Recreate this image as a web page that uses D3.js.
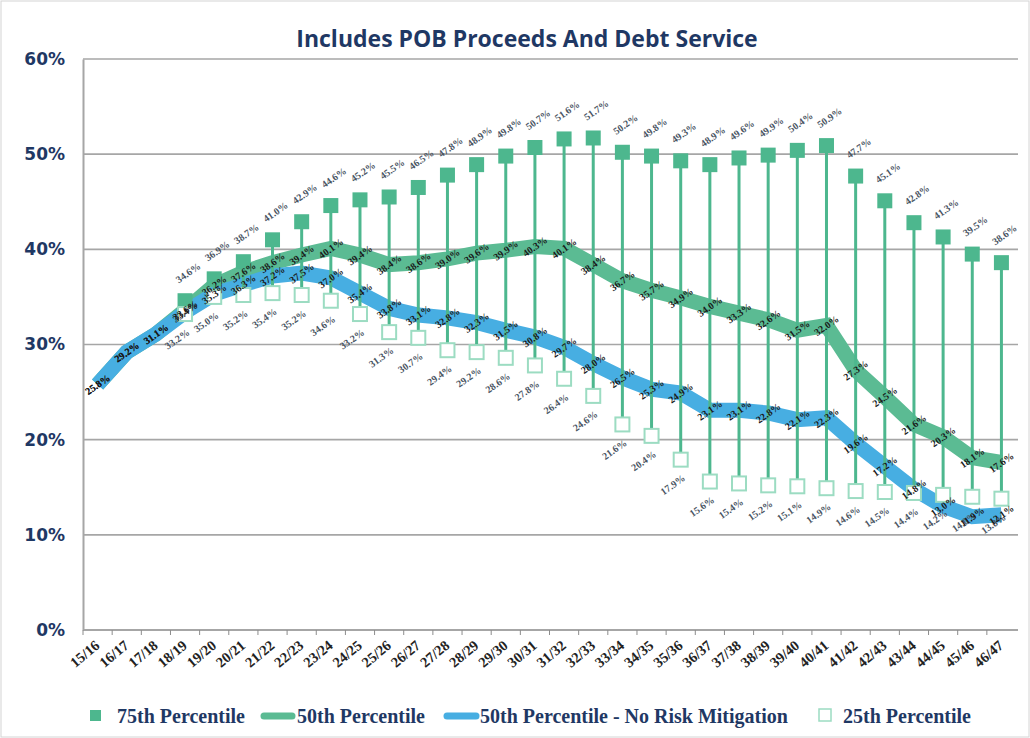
<!DOCTYPE html>
<html>
<head>
<meta charset="utf-8">
<script src="https://cdn.jsdelivr.net/npm/d3@7"></script>
<style>
  body { margin: 0; background: #fff; }
  svg { display: block; }
</style>
</head>
<body>
<div id="chart"></div>
<script>
// fiscal years on the category axis
var years = ["15/16","16/17","17/18","18/19","19/20","20/21","21/22","22/23","23/24","24/25",
  "25/26","26/27","27/28","28/29","29/30","30/31","31/32","32/33","33/34","34/35",
  "35/36","36/37","37/38","38/39","39/40","40/41","41/42","42/43","43/44","44/45",
  "45/46","46/47"];

// percent values
var p75 = [null, null, null, 34.6, 36.9, 38.7, 41.0, 42.9, 44.6, 45.2,
  45.5, 46.5, 47.8, 48.9, 49.8, 50.7, 51.6, 51.7, 50.2, 49.8,
  49.3, 48.9, 49.6, 49.9, 50.4, 50.9, 47.7, 45.1, 42.8, 41.3,
  39.5, 38.6];
var p50 = [25.8, 29.2, 31.1, 33.6, 36.2, 37.6, 38.6, 39.4, 40.1, 39.4,
  38.4, 38.6, 39.0, 39.6, 39.9, 40.3, 40.1, 38.4, 36.7, 35.7,
  34.9, 34.0, 33.3, 32.6, 31.5, 32.0, 27.3, 24.5, 21.6, 20.3,
  18.1, 17.6];
var p50NoRisk = [25.8, 29.2, 31.1, 33.4, 35.3, 36.3, 37.2, 37.5, 37.0, 35.4,
  33.8, 33.1, 32.8, 32.3, 31.5, 30.8, 29.7, 28.0, 26.5, 25.3,
  24.9, 23.1, 23.1, 22.8, 22.1, 22.3, 19.6, 17.2, 14.8, 13.0,
  11.9, 12.1];
var p25 = [null, null, null, 33.2, 35.0, 35.2, 35.4, 35.2, 34.6, 33.2,
  31.3, 30.7, 29.4, 29.2, 28.6, 27.8, 26.4, 24.6, 21.6, 20.4,
  17.9, 15.6, 15.4, 15.2, 15.1, 14.9, 14.6, 14.5, 14.4, 14.2,
  14.0, 13.8];
var yTicks = [0, 10, 20, 30, 40, 50, 60];

var W = 1030, H = 738;
var navy = "#1f3864";
var green = "#4db78e", lineGreen = "#5bbb93", blue = "#47aee2", lightGreen = "#9cdcc2";

var svg = d3.select("#chart").append("svg")
    .attr("width", W)
    .attr("height", H);

svg.append("rect")
    .attr("x", 1).attr("y", 1)
    .attr("width", W - 2).attr("height", H - 2)
    .attr("fill", "#fff")
    .attr("stroke", "#d4d4d4");

// scales
var x = d3.scaleBand()
    .domain(years)
    .range([83, 1016])
    .padding(0);

var y = d3.scaleLinear()
    .domain([0, 60])
    .range([630, 59]);

function cx(i) { return x(years[i]) + x.bandwidth() / 2; }
var fmt = function(v) { return d3.format(".1f")(v) + "%"; };

// title
svg.append("text")
    .attr("x", 527)
    .attr("y", 47)
    .attr("text-anchor", "middle")
    .attr("font-family", "'Open Sans', sans-serif")
    .attr("font-weight", 700)
    .attr("font-size", 23)
    .attr("fill", navy)
    .text("Includes POB Proceeds And Debt Service");

// gridlines
svg.append("g")
    .selectAll("line")
    .data(yTicks)
    .enter().append("line")
    .attr("x1", 83).attr("x2", 1018)
    .attr("y1", function(d) { return y(d); })
    .attr("y2", function(d) { return y(d); })
    .attr("stroke", "#a6a6a6")
    .attr("stroke-width", 1.6);

// y axis
var yAxis = svg.append("g")
    .attr("transform", "translate(83,0)")
    .call(d3.axisLeft(y).tickValues(yTicks).tickSize(0).tickPadding(18)
      .tickFormat(function(d) { return d + "%"; }));
yAxis.select(".domain").attr("stroke", "#a6a6a6").attr("stroke-width", 2);
yAxis.selectAll("text")
    .attr("font-family", "'DejaVu Sans', sans-serif")
    .attr("font-weight", 700)
    .attr("font-size", 17)
    .attr("fill", navy);

// x axis: ticks sit between categories
var xAxis = svg.append("g")
    .attr("transform", "translate(0," + y(0) + ")");
xAxis.append("line")
    .attr("x1", 83).attr("x2", 1018)
    .attr("stroke", "#a6a6a6").attr("stroke-width", 2);
xAxis.selectAll("line.tick")
    .data(years)
    .enter().append("line")
    .attr("class", "tick")
    .attr("x1", function(d) { return x(d); })
    .attr("x2", function(d) { return x(d); })
    .attr("y1", 0).attr("y2", 5)
    .attr("stroke", "#8c8c8c");
xAxis.selectAll("text")
    .data(years)
    .enter().append("text")
    .attr("transform", function(d) {
      return "translate(" + (x(d) + x.bandwidth() / 2 + 3) + ",17) rotate(-40)";
    })
    .attr("text-anchor", "end")
    .attr("font-family", "'Liberation Serif', serif")
    .attr("font-weight", 700)
    .attr("font-size", 14.5)
    .attr("fill", "#222")
    .text(function(d) { return d; });

// series lines
var line = d3.line()
    .defined(function(d) { return d != null; })
    .x(function(d, i) { return cx(i); })
    .y(function(d) { return y(d); });

svg.append("path")
    .datum(p50)
    .attr("d", line)
    .attr("fill", "none")
    .attr("stroke", lineGreen)
    .attr("stroke-width", 15);

svg.append("path")
    .datum(p50NoRisk)
    .attr("d", line)
    .attr("fill", "none")
    .attr("stroke", blue)
    .attr("stroke-width", 15);

// high-low lines from 75th to 25th
svg.append("g")
    .selectAll("line")
    .data(years.filter(function(d, i) { return p75[i] != null; }))
    .enter().append("line")
    .attr("x1", function(d) { return cx(years.indexOf(d)); })
    .attr("x2", function(d) { return cx(years.indexOf(d)); })
    .attr("y1", function(d) { return y(p75[years.indexOf(d)]); })
    .attr("y2", function(d) { return y(p25[years.indexOf(d)]); })
    .attr("stroke", green)
    .attr("stroke-width", 3);

// 75th markers
svg.append("g")
    .selectAll("rect")
    .data(p75.map(function(v, i) { return {i: i, v: v}; }).filter(function(d) { return d.v != null; }))
    .enter().append("rect")
    .attr("x", function(d) { return cx(d.i) - 7.5; })
    .attr("y", function(d) { return y(d.v) - 7.5; })
    .attr("width", 15).attr("height", 15)
    .attr("fill", green);

// 25th markers
svg.append("g")
    .selectAll("rect")
    .data(p25.map(function(v, i) { return {i: i, v: v}; }).filter(function(d) { return d.v != null; }))
    .enter().append("rect")
    .attr("x", function(d) { return cx(d.i) - 7; })
    .attr("y", function(d) { return y(d.v) - 7; })
    .attr("width", 14).attr("height", 14)
    .attr("fill", "#fff")
    .attr("stroke", lightGreen)
    .attr("stroke-width", 2);

// data labels
function labels(arr, dx, dy, color) {
  svg.append("g")
    .selectAll("text")
    .data(arr.map(function(v, i) { return {i: i, v: v}; }).filter(function(d) { return d.v != null; }))
    .enter().append("text")
    .attr("transform", function(d) {
      return "translate(" + (cx(d.i) + dx) + "," + (y(d.v) + dy) + ") rotate(-35)";
    })
    .attr("text-anchor", "middle")
    .attr("dominant-baseline", "central")
    .attr("font-family", "'Liberation Serif', serif")
    .attr("font-weight", 700)
    .attr("font-size", 10)
    .attr("fill", color)
    .text(function(d) { return fmt(d.v); });
}
labels(p75, 3, -28, "#4a5563");
labels(p25, -8, 25, "#4a5563");
labels(p50, 0, 0, "#1a1a1a");
labels(p50NoRisk, 0, 0, "#1a1a1a");

// legend
var lg = svg.append("g")
    .attr("font-family", "'Liberation Serif', serif")
    .attr("font-weight", 700)
    .attr("font-size", 20)
    .attr("fill", navy);

lg.append("rect").attr("x", 90).attr("y", 710).attr("width", 11).attr("height", 11).attr("fill", green);
lg.append("text").attr("x", 117).attr("y", 723).text("75th Percentile");

lg.append("line").attr("x1", 264).attr("x2", 292).attr("y1", 716).attr("y2", 716)
    .attr("stroke", lineGreen).attr("stroke-width", 7).attr("stroke-linecap", "round");
lg.append("text").attr("x", 297).attr("y", 723).text("50th Percentile");

lg.append("line").attr("x1", 447).attr("x2", 476).attr("y1", 716).attr("y2", 716)
    .attr("stroke", blue).attr("stroke-width", 7).attr("stroke-linecap", "round");
lg.append("text").attr("x", 480).attr("y", 723).text("50th Percentile - No Risk Mitigation");

lg.append("rect").attr("x", 819).attr("y", 709).attr("width", 12).attr("height", 12)
    .attr("fill", "#fff").attr("stroke", lightGreen).attr("stroke-width", 1.5);
lg.append("text").attr("x", 843).attr("y", 723).text("25th Percentile");
</script>
</body>
</html>
